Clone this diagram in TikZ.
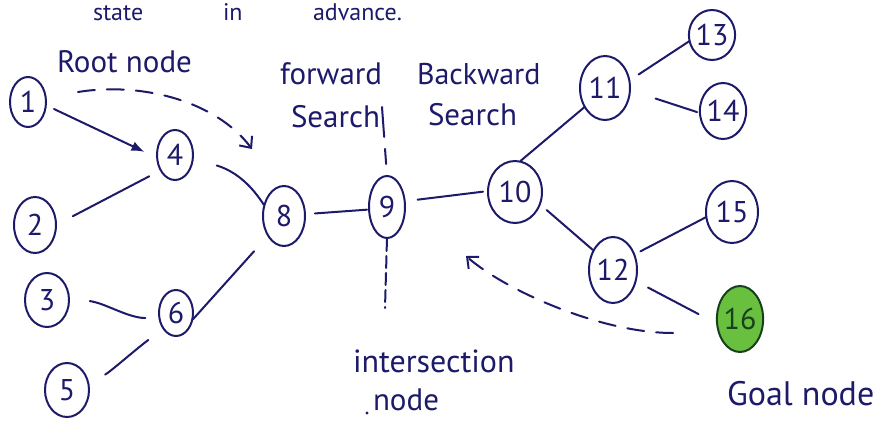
\documentclass[tikz,border=0pt]{standalone}
\usepackage{fontspec}
\setmainfont{PT Sans}
\usetikzlibrary{shapes.geometric,arrows.meta}
\definecolor{ink}{RGB}{28,26,105}
\definecolor{goalfill}{RGB}{104,192,62}
\definecolor{goalrim}{RGB}{24,64,28}
\begin{document}
\begin{tikzpicture}[x=1pt,y=-1pt,
  every node/.style={inner sep=0pt, outer sep=0pt},
  nd/.style 2 args={ellipse, draw=ink, line width=2pt, minimum width=#1pt,
    minimum height=#2pt, text=ink, font=\fontsize{30}{30}\selectfont},
  lbl/.style={anchor=base west, text=ink, font=\fontsize{31}{31}\selectfont},
  edge/.style={draw=ink, line width=2pt, line cap=round},
  dsh/.style={edge, dash pattern=on 17pt off 12pt},
  tip/.style={-{Straight Barb[length=9pt,width=16pt,line width=2pt]}},
]
\useasboundingbox (0,0) rectangle (875,423);
\clip (0,0) rectangle (875,423);

% heading line along the top edge
\node[lbl, font=\fontsize{24}{24}\selectfont] (h1) at (93,20) {state};
\node[lbl, font=\fontsize{24}{24}\selectfont] (h2) at (223,20) {in};
\node[lbl, font=\fontsize{24}{24}\selectfont] (h3) at (313,20) {advance.};

% labels
\node[lbl] (lroot) at (57,72) {Root node};
\node[lbl] (lfw1) at (280,84) {forward};
\node[lbl] (lfw2) at (291,127) {Search};
\node[lbl, font=\fontsize{30}{30}\selectfont] (lbw1) at (417,84) {Backward};
\node[lbl] (lbw2) at (428,125) {Search};
\node[lbl, font=\fontsize{32}{32}\selectfont] (lint1) at (353,372) {intersection};
\node[lbl] (lint2) at (373,410) {node};
\node[lbl, font=\fontsize{34}{34}\selectfont] (lgoal) at (727,405) {Goal node};

% forward side
\node[nd={36}{50}] (n1) at (28,102) {1};
\node[nd={42}{56}] (n2) at (35,225) {2};
\node[nd={44}{54}] (n3) at (47,300) {3};
\node[nd={36}{50}] (n4) at (175,155) {4};
\node[nd={44}{54}] (n5) at (67,390) {5};
\node[nd={34}{46}] (n6) at (176,313) {6};
\node[nd={42}{60}] (n8) at (284,216) {8};
\node[nd={36}{62}] (n9) at (387,207) {9};

% backward side
\node[nd={54}{62}] (n10) at (515,192) {10};
\node[nd={50}{64}] (n11) at (605,88) {11};
\node[nd={48}{66}] (n12) at (613,270) {12};
\node[nd={46}{50}] (n13) at (712,35) {13};
\node[nd={44}{56}] (n14) at (723,111) {14};
\node[nd={52}{62}] (n15) at (732,212) {15};
\node[nd={44}{66}, fill=goalfill, draw=goalrim, text=goalrim] (n16) at (740,319) {16};

% tree edges
\draw[edge, shorten <=9pt, shorten >=14pt, -{Latex[length=13pt,width=10pt]}] (n1.-10) -- (n4.189);
\draw[edge, shorten <=19pt, shorten >=13pt] (n2.0) -- (n4.227);
\draw[edge, shorten <=25pt, shorten >=1pt] (n4.-10) .. controls (238,172) and (253,188) .. (n8.152);
\draw[edge, shorten <=21pt, shorten >=14pt] (n3.4) .. controls (105,303) and (128,318) .. (n6.197);
\draw[edge, shorten <=19pt, shorten >=19pt] (n5.17) .. controls (110,372) and (135,350) .. (n6.231);
\draw[edge, shorten <=1pt, shorten >=21pt] (n6.-24) -- (n8.231);
\draw[edge, shorten <=10pt, shorten >=2pt] (n8.5) -- (n9.188);
\draw[edge, shorten <=13pt, shorten >=5pt] (n9.18) -- (n10.178);
\draw[edge, shorten <=1pt] (n10.81) -- (n11.223);
\draw[edge, shorten <=11pt] (n11.17) -- (n13.195);
\draw[edge, shorten <=27pt, shorten >=3pt] (n11.-5) -- (n14.185);
\draw[edge, shorten <=9pt, shorten >=1pt] (n10.-26) -- (n12.135);
\draw[edge, shorten <=7pt] (n12.36) -- (n15.191);
\draw[edge, shorten <=14pt, shorten >=21pt] (n12.-26) -- (n16.192);

% search directions
\coordinate (fwdS) at (78,92);
\coordinate (fwdE) at (252,149);
\draw[dsh, tip] (fwdS) .. controls (140,82) and (215,100) .. (fwdE);
\coordinate (bwdS) at (673,333);
\coordinate (bwdE) at (466,256);
\draw[dsh, tip] (bwdS) .. controls (600,333) and (505,290) .. (bwdE);

% marker through the intersection node
\coordinate (vtop) at (382,107);
\coordinate (vbot) at (385,308);
\draw[edge, dash pattern=on 30pt off 12pt, shorten >=12pt] (vtop) -- (n9.north);
\draw[edge, dash pattern=on 12pt off 5pt, shorten <=1pt] (n9.south) -- (vbot);
\fill[ink] (367,413) circle (1.6pt);
\end{tikzpicture}
\end{document}
